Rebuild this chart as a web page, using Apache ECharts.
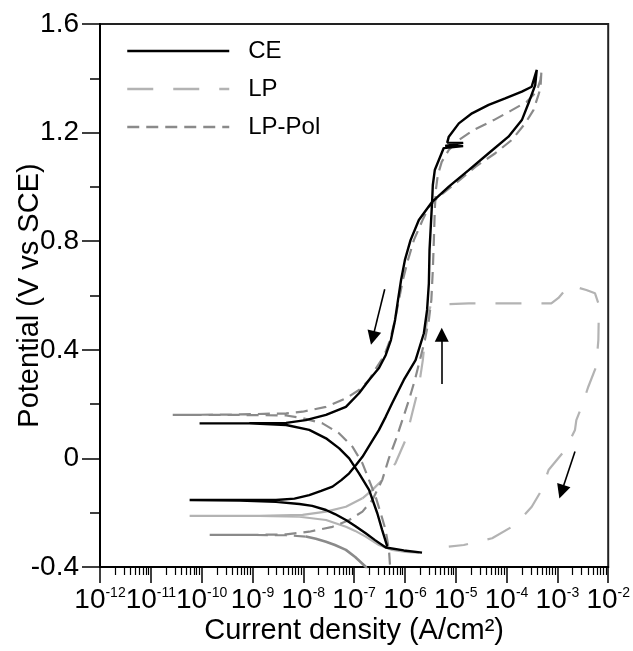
<!DOCTYPE html>
<html><head><meta charset="utf-8">
<script src="https://cdn.jsdelivr.net/npm/echarts@6/dist/echarts.min.js"></script>
<style>html,body{margin:0;padding:0;background:#fff}#c{width:633px;height:651px}</style>
</head><body><div id="c"></div>
<script>
// ---- axis ticks ----
const xDecades = [-12, -11, -10, -9, -8, -7, -6, -5, -4, -3, -2];
const yTicks = [-0.4, 0, 0.4, 0.8, 1.2, 1.6];

// ---- CE (black solid): forward scan, then reverse scan ----
const ceCurrent = [2.17e-6, 9.5e-7, 4.2e-7, 2.58e-7, 1.69e-7, 1.05e-7, 6.9e-8, 4.2e-8, 2.8e-8, 1.5e-8, 8.4e-9, 2.9e-9, 5.6e-10, 5.8e-11,
  5.6e-10, 2.9e-9, 6.7e-9, 1.31e-8, 2.25e-8, 3.76e-8, 5.6e-8, 8.0e-8, 1.09e-7, 1.46e-7, 2.15e-7, 3.09e-7, 4.2e-7, 5.6e-7, 9.5e-7,
  1.62e-6, 2.36e-6, 2.73e-6, 2.96e-6, 3.05e-6, 3.24e-6, 3.44e-6, 3.54e-6, 3.87e-6, 4.65e-6, 5.8e-6,
  1.4e-5, 6.2e-6, 1.4e-5, 6.8e-6, 7.3e-6, 1.15e-5, 2.09e-5, 4.44e-5, 9.4e-5, 2.0e-4, 3.12e-4, 3.93e-4,
  3.66e-4, 2.70e-4, 2.0e-4, 1.09e-4, 4.44e-5, 1.80e-5, 7.3e-6, 3.44e-6, 1.88e-6, 1.29e-6, 1.0e-6, 8.4e-7, 7.3e-7, 6.4e-7, 5.3e-7,
  4.2e-7, 3.09e-7, 1.97e-7, 1.25e-7, 6.9e-8, 2.8e-8, 1.12e-8, 4.6e-9, 8.7e-10, 9.1e-11,
  8.7e-10, 4.6e-9, 1.31e-8, 2.8e-8, 5.1e-8, 8.0e-8, 1.25e-7, 1.97e-7, 2.86e-7, 3.57e-7, 4.5e-7];
const cePotential = [-0.347, -0.339, -0.328, -0.301, -0.276, -0.249, -0.227, -0.205, -0.190, -0.175, -0.168, -0.160, -0.155, -0.153,
  -0.153, -0.153, -0.148, -0.135, -0.120, -0.104, -0.080, -0.055, -0.024, 0.006, 0.057, 0.105, 0.154, 0.203, 0.289,
  0.362, 0.461, 0.547, 0.645, 0.768, 0.860, 0.952, 1.007, 1.062, 1.099, 1.143,
  1.150, 1.151, 1.162, 1.163, 1.185, 1.234, 1.271, 1.302, 1.326, 1.351, 1.369, 1.431,
  1.375, 1.308, 1.246, 1.185, 1.124, 1.062, 1.001, 0.945, 0.878, 0.804, 0.731, 0.657, 0.583, 0.510, 0.436,
  0.381, 0.333, 0.289, 0.240, 0.190, 0.160, 0.141, 0.131, 0.130, 0.129,
  0.129, 0.123, 0.105, 0.074, 0.037, 0.000, -0.055, -0.116, -0.202, -0.264, -0.325];

// ---- LP (light grey): anodic part + breakdown loop (dashed) ----
const lpAnodicCurrent = [1.46e-7, 2.29e-7, 4.17e-7, 6.5e-7, 1.03e-6, 1.39e-6, 1.88e-6, 2.25e-6, 2.58e-6, 2.82e-6, 3.24e-6,
  1.80e-5, 7.6e-4, 1.05e-3, 1.42e-3, 1.80e-3, 2.36e-3, 3.71e-3, 5.5e-3, 6.4e-3, 6.5e-3, 6.4e-3, 5.8e-3, 4.06e-3, 2.99e-3,
  2.36e-3, 2.22e-3, 1.42e-3, 6.7e-4, 4.92e-4, 3.13e-4, 1.48e-4, 5.2e-5, 1.44e-5, 7.3e-6];
const lpAnodicPotential = [-0.147, -0.116, -0.067, -0.018, 0.068, 0.166, 0.264, 0.362, 0.473, 0.528, 0.565,
  0.571, 0.571, 0.591, 0.620, 0.613, 0.631, 0.620, 0.608, 0.571, 0.510, 0.436, 0.338, 0.264, 0.190,
  0.141, 0.105, 0.031, -0.043, -0.116, -0.178, -0.245, -0.294, -0.319, -0.325];
// ---- LP cathodic part around Ecorr (looks solid) ----
const lpCathodicCurrent = [1.88e-6, 1.03e-6, 5.6e-7, 3.09e-7, 1.69e-7, 1.05e-7, 6.9e-8, 2.8e-8, 8.4e-9, 1.37e-9, 5.8e-11,
  1.37e-9, 9.7e-9, 2.8e-8, 6.9e-8, 1.46e-7];
const lpCathodicPotential = [-0.347, -0.344, -0.337, -0.319, -0.288, -0.267, -0.252, -0.227, -0.215, -0.212, -0.212,
  -0.212, -0.208, -0.196, -0.178, -0.147];

// ---- LP-Pol (mid grey, dashed) ----
const lpPolCurrent = [1.12e-8, 4.6e-9, 8.7e-10, 1.44e-10,
  8.7e-10, 4.6e-9, 1.31e-8, 3.76e-8, 8.0e-8, 1.46e-7, 2.29e-7, 3.57e-7, 4.85e-7, 6.6e-7, 8.9e-7, 1.20e-6, 1.57e-6, 1.97e-6,
  2.47e-6, 2.96e-6, 3.31e-6, 3.54e-6, 3.71e-6, 3.87e-6, 4.06e-6, 4.44e-6, 5.3e-6, 7.3e-6, 1.15e-5, 2.25e-5, 5.6e-5, 1.20e-4,
  2.47e-4, 3.87e-4, 4.65e-4, 4.85e-4,
  4.65e-4, 4.24e-4, 3.38e-4, 2.33e-4, 1.27e-4, 6.0e-5, 2.43e-5, 9.9e-6, 4.65e-6, 2.96e-6, 2.18e-6, 1.50e-6, 1.15e-6, 9.1e-7,
  7.6e-7, 6.4e-7, 5.1e-7, 3.87e-7, 2.58e-7, 1.97e-7, 1.25e-7, 6.9e-8, 2.8e-8, 9.7e-9, 4.6e-9, 5.6e-10, 2.7e-11,
  5.6e-10, 4.6e-9, 9.7e-9, 2.39e-8, 5.1e-8, 9.3e-8, 1.46e-7, 1.97e-7, 2.65e-7, 3.34e-7, 4.17e-7, 4.85e-7, 5.1e-7, 5.1e-7];
const lpPolPotential = [-0.288, -0.283, -0.282, -0.282,
  -0.282, -0.280, -0.270, -0.252, -0.227, -0.196, -0.153, -0.080, 0.001, 0.068, 0.141, 0.215, 0.289, 0.362,
  0.436, 0.510, 0.583, 0.694, 0.804, 0.915, 0.989, 1.044, 1.092, 1.136, 1.173, 1.210, 1.246, 1.280,
  1.313, 1.350, 1.394, 1.427,
  1.364, 1.339, 1.283, 1.234, 1.173, 1.124, 1.074, 1.013, 0.964, 0.927, 0.874, 0.804, 0.731, 0.657,
  0.583, 0.510, 0.436, 0.377, 0.326, 0.289, 0.252, 0.221, 0.190, 0.172, 0.166, 0.162, 0.160,
  0.160, 0.158, 0.148, 0.129, 0.092, 0.043, -0.018, -0.080, -0.141, -0.202, -0.264, -0.337, -0.396, -0.418];
// ---- LP-Pol cathodic start (looks solid) ----
const lpPolStartCurrent = [1.97e-7, 1.69e-7, 1.05e-7, 6.9e-8, 4.2e-8, 2.8e-8, 1.77e-8, 1.12e-8];
const lpPolStartPotential = [-0.429, -0.399, -0.363, -0.337, -0.319, -0.307, -0.296, -0.288];

// ---- scan-direction arrows ----
const arrowFromCurrent = [4.0e-7, 5.3e-6, 2.22e-3];
const arrowFromPotential = [0.623, 0.274, 0.025];
const arrowToCurrent = [2.32e-7, 5.3e-6, 1.21e-3];
const arrowToPotential = [0.444, 0.455, -0.123];

const pairs = (xs, ys) => xs.map((x, i) => [x, ys[i]]);
const FONT = 'Liberation Sans, Arial, sans-serif';
const LP_COLOR = '#b3b3b3', POL_COLOR = '#8a8a8a';

const minorVals = [];
for (let k = xDecades[0]; k < xDecades[xDecades.length - 1]; k++) {
  for (let m = 2; m <= 9; m++) minorVals.push(m * Math.pow(10, k));
}
const xMin = Math.pow(10, xDecades[0]), xMax = Math.pow(10, xDecades[xDecades.length - 1]);

const chart = echarts.init(document.getElementById('c'), null, {renderer: 'canvas'});
chart.setOption({
  animation: false,
  backgroundColor: '#fff',
  grid: {left: 100, right: 23, top: 24, bottom: 84, show: true, borderColor: '#222', borderWidth: 2, containLabel: false},
  legend: {
    data: ['CE', 'LP', 'LP-Pol'], orient: 'vertical', left: 126, top: 39, padding: 0,
    itemWidth: 102, itemHeight: 22, itemGap: 14,
    itemStyle: {opacity: 0},
    lineStyle: {width: 2.5},
    textStyle: {fontFamily: FONT, fontSize: 24, color: '#000', padding: [0, 0, 0, 14]}
  },
  xAxis: [{
    type: 'log', logBase: 10, min: xMin, max: xMax,
    splitNumber: 10, position: 'bottom',
    axisLine: {show: true, onZero: false, lineStyle: {color: '#000', width: 2}},
    axisTick: {show: true, inside: false, length: 16, lineStyle: {color: '#000', width: 1.5}},
    splitLine: {show: false}, minorTick: {show: false},
    axisLabel: {
      interval: 0, hideOverlap: false, margin: 19,
      formatter: v => '{a|10}{b|' + Math.round(Math.log10(v)) + '}',
      rich: {
        a: {fontFamily: FONT, fontSize: 28, color: '#000'},
        b: {fontFamily: FONT, fontSize: 14, color: '#000', verticalAlign: 'top'}
      }
    },
    name: 'Current density (A/cm²)', nameLocation: 'middle', nameGap: 49, nameMoveOverlap: false,
    nameTextStyle: {fontFamily: FONT, fontSize: 29, color: '#000'}
  }, {
    type: 'log', logBase: 10, min: xMin, max: xMax,
    position: 'bottom', axisLine: {show: false, onZero: false}, splitLine: {show: false},
    axisLabel: {show: false},
    axisTick: {show: true, inside: false, length: 8, customValues: minorVals, lineStyle: {color: '#000', width: 1.2}}
  }],
  yAxis: {
    type: 'value', min: yTicks[0], max: yTicks[yTicks.length - 1], interval: 0.4,
    axisLine: {show: true, onZero: false, lineStyle: {color: '#000', width: 2}},
    axisTick: {show: true, inside: false, length: 18, lineStyle: {color: '#000', width: 1.5}},
    minorTick: {show: true, splitNumber: 2, length: 10, lineStyle: {color: '#000', width: 1.5}},
    splitLine: {show: false}, minorSplitLine: {show: false},
    axisLabel: {margin: 21, fontFamily: FONT, fontSize: 28, color: '#000',
      formatter: v => Math.abs(v) < 1e-9 ? '0' : v.toFixed(1)},
    name: 'Potential (V vs SCE)', nameLocation: 'middle', nameGap: 56, nameMoveOverlap: false,
    nameTextStyle: {fontFamily: FONT, fontSize: 29, color: '#000'}
  },
  series: [
    {name: 'CE', type: 'line', xAxisIndex: 0, symbol: 'none', z: 5,
      lineStyle: {color: '#000', width: 2.4, type: 'solid'}, itemStyle: {color: '#000'},
      data: pairs(ceCurrent, cePotential),
      markLine: {silent: true, symbol: ['none', 'triangle'], symbolSize: 14, animation: false,
        label: {show: false}, lineStyle: {color: '#000', width: 1.6, type: 'solid'},
        emphasis: {disabled: true},
        data: arrowFromCurrent.map((x, i) => [{coord: [x, arrowFromPotential[i]]}, {coord: [arrowToCurrent[i], arrowToPotential[i]]}])}
    },
    {name: 'LP', type: 'line', xAxisIndex: 0, symbol: 'none', z: 3,
      lineStyle: {color: LP_COLOR, width: 2.2, type: [26, 20]}, itemStyle: {color: LP_COLOR},
      data: pairs(lpAnodicCurrent, lpAnodicPotential)},
    {name: 'LP-Pol', type: 'line', xAxisIndex: 0, symbol: 'none', z: 4,
      lineStyle: {color: POL_COLOR, width: 2.2, type: [12, 7]}, itemStyle: {color: POL_COLOR},
      data: pairs(lpPolCurrent, lpPolPotential)},
    {name: 'LP', type: 'line', xAxisIndex: 0, symbol: 'none', z: 3,
      lineStyle: {color: LP_COLOR, width: 2.2, type: 'solid'}, itemStyle: {color: LP_COLOR},
      data: pairs(lpCathodicCurrent, lpCathodicPotential)},
    {name: 'LP-Pol', type: 'line', xAxisIndex: 0, symbol: 'none', z: 4,
      lineStyle: {color: POL_COLOR, width: 2.6, type: 'solid'}, itemStyle: {color: POL_COLOR},
      data: pairs(lpPolStartCurrent, lpPolStartPotential)}
  ]
});
</script></body></html>
